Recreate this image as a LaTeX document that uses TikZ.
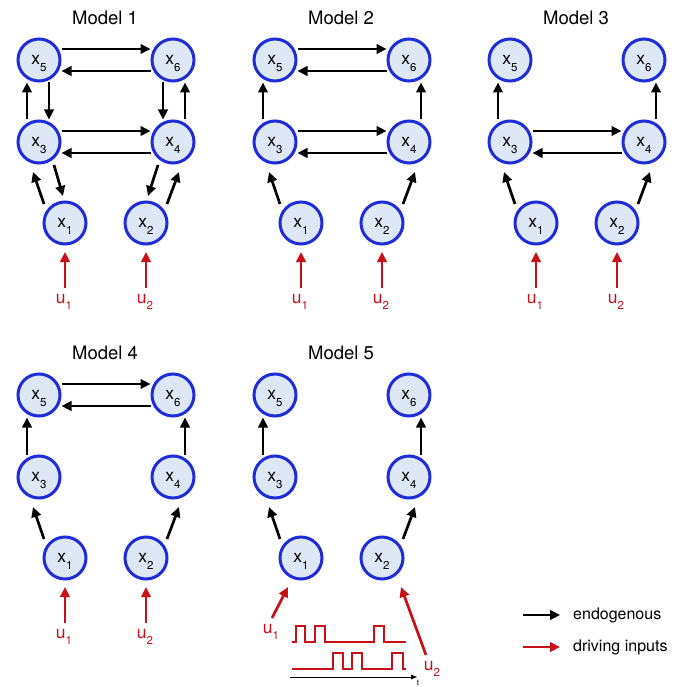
\documentclass[tikz,border=0pt]{standalone}
\usepackage{fontspec}
\setmainfont{TeX Gyre Heros}
\usetikzlibrary{arrows.meta,calc}
\definecolor{nblue}{RGB}{30,45,215}
\definecolor{nfill}{RGB}{222,231,246}
\definecolor{ired}{RGB}{200,16,22}
\newcommand\xl[2]{{\fontsize{17.5}{17.5}\selectfont #1}\raisebox{-6.5pt}[0pt][0pt]{\fontsize{11.5}{11.5}\selectfont #2}}
\newcommand\mkmodel[2]{%
  \node[ttl] (#1t) at (105,18) {#2};
  \node[st] (#1x5) at (39,60) {\xl{x}{5}};
  \node[st] (#1x6) at (173,60) {\xl{x}{6}};
  \node[st] (#1x3) at (39,142) {\xl{x}{3}};
  \node[st] (#1x4) at (173,142) {\xl{x}{4}};
  \node[st] (#1x1) at (65,223) {\xl{x}{1}};
  \node[st] (#1x2) at (146,223) {\xl{x}{2}};
}
\newcommand\stdin[1]{%
  \node[ulab] (#1u1) at (64,303) {\xl{u}{1}};
  \node[ulab] (#1u2) at (145,303) {\xl{u}{2}};
  \draw[inarr] ($(#1x1)+(0,65)$) -- ($(#1x1)+(0,29)$);
  \draw[inarr] ($(#1x2)+(0,65)$) -- ($(#1x2)+(0,29)$);
}
\newcommand\upv[1]{%
  \draw[arr] ([xshift=-12pt]#1x3.north) -- ([xshift=-12pt]#1x5.south);
  \draw[arr] ([xshift=12pt]#1x4.north) -- ([xshift=12pt]#1x6.south);
}
\newcommand\updiag[1]{%
  \draw[arr] ($(#1x1)+(-21,-19)$) -- ($(#1x3)+(-6,30)$);
  \draw[arr] ($(#1x2)+(21,-19)$) -- ($(#1x4)+(6,30)$);
}
\newcommand\hpair[2]{%
  \draw[arr] ([yshift=11pt]#1.east) -- ([yshift=11pt]#2.west);
  \draw[arr] ([yshift=-11pt]#2.west) -- ([yshift=-11pt]#1.east);
}
\begin{document}
\begin{tikzpicture}[x=1pt,y=-1pt,
  st/.style={circle,draw=nblue,fill=nfill,line width=3pt,minimum size=42pt,inner sep=0pt},
  arr/.style={line width=2.7pt,-{Triangle[length=10pt,width=9.5pt]}},
  inarr/.style={arr,draw=ired},
  ttl/.style={font=\fontsize{18.5}{18.5}\selectfont},
  ulab/.style={text=ired,anchor=base,inner sep=0pt},
  pulse/.style={draw=ired,line width=1.4pt}]
\fill[white] (0,0) rectangle (681,687);
\useasboundingbox (0,0) rectangle (681,687);

% Model 1
\begin{scope}
  \mkmodel{a}{Model 1}
  \stdin{a}
  \hpair{ax5}{ax6}
  \hpair{ax3}{ax4}
  \draw[arr] ([xshift=-12pt]ax3.north) -- ([xshift=-12pt]ax5.south);
  \draw[arr] ([xshift=10pt]ax5.south) -- ([xshift=10pt]ax3.north);
  \draw[arr] ([xshift=-10pt]ax6.south) -- ([xshift=-10pt]ax4.north);
  \draw[arr] ([xshift=12pt]ax4.north) -- ([xshift=12pt]ax6.south);
  \updiag{a}
  \draw[arr] ($(ax3)+(15,23)$) -- ($(ax1)+(-2,-27)$);
  \draw[arr] ($(ax4)+(-15,23)$) -- ($(ax2)+(2,-27)$);
\end{scope}

% Model 2
\begin{scope}[shift={(236,0)}]
  \mkmodel{b}{Model 2}
  \stdin{b}
  \hpair{bx5}{bx6}
  \hpair{bx3}{bx4}
  \upv{b}
  \updiag{b}
\end{scope}

% Model 3
\begin{scope}[shift={(471,0)}]
  \mkmodel{c}{Model 3}
  \stdin{c}
  \hpair{cx3}{cx4}
  \upv{c}
  \updiag{c}
\end{scope}

% Model 4
\begin{scope}[shift={(0,335)}]
  \mkmodel{d}{Model 4}
  \stdin{d}
  \hpair{dx5}{dx6}
  \upv{d}
  \updiag{d}
\end{scope}

% Model 5
\begin{scope}[shift={(236,335)}]
  \mkmodel{e}{Model 5}
  \upv{e}
  \updiag{e}
\end{scope}
\node[ulab] (eu1) at (271,633) {\xl{u}{1}};
\node[ulab] (eu2) at (432,670) {\xl{u}{2}};
\draw[inarr] ($(ex1)+(-29,60)$) -- ($(ex1)+(-13,29)$);
\draw[inarr] ($(ex2)+(44,97)$) -- ($(ex2)+(19,29)$);
\draw[pulse] (292,642) -- (296,642) -- (296,626) -- (305,626) -- (305,642) -- (315,642) -- (315,626) -- (325,626) -- (325,642) -- (374,642) -- (374,626) -- (384,626) -- (384,642) -- (406,642);
\draw[pulse] (292,669) -- (333,669) -- (333,653) -- (343,653) -- (343,669) -- (352,669) -- (352,653) -- (362,653) -- (362,669) -- (392,669) -- (392,653) -- (403,653) -- (403,669) -- (406,669);
\coordinate (tax0) at (290,677);
\coordinate (tax1) at (417,677);
\draw[line width=0.9pt,-{Triangle[length=6pt,width=4.5pt]}] (tax0) -- (tax1);
\node[font=\fontsize{8}{8}\selectfont,inner sep=0pt] (tlab) at (418,682.5) {t};

% Legend
\coordinate (l1s) at (523,615);
\coordinate (l1e) at (560,615);
\coordinate (l2s) at (523,647);
\coordinate (l2e) at (560,647);
\draw[arr] (l1s) -- (l1e);
\draw[inarr] (l2s) -- (l2e);
\node[anchor=west,inner sep=0pt,font=\fontsize{16}{16}\selectfont] (leg1) at (573,615) {endogenous};
\node[anchor=west,inner sep=0pt,font=\fontsize{16}{16}\selectfont] (leg2) at (573,647) {driving inputs};
\end{tikzpicture}
\end{document}
